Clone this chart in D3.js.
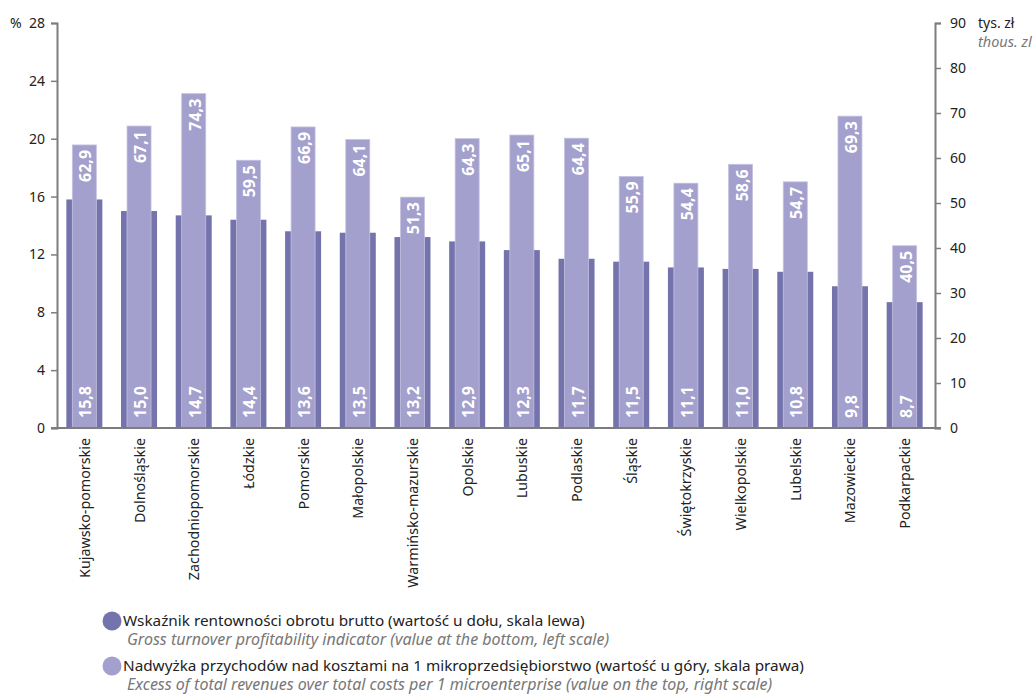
<!DOCTYPE html>
<html><head><meta charset="utf-8">
<script src="https://cdn.jsdelivr.net/npm/d3@7"></script>
<style>body{margin:0;background:#fff}svg{display:block}</style>
</head><body>
<svg id="c" width="1035" height="695"></svg>
<script>
const categories = ["Kujawsko-pomorskie","Dolnośląskie","Zachodniopomorskie","Łódzkie","Pomorskie","Małopolskie","Warmińsko-mazurskie","Opolskie","Lubuskie","Podlaskie","Śląskie","Świętokrzyskie","Wielkopolskie","Lubelskie","Mazowieckie","Podkarpackie"];
const profitability = [15.8,15.0,14.7,14.4,13.6,13.5,13.2,12.9,12.3,11.7,11.5,11.1,11.0,10.8,9.8,8.7];
const surplus = [62.9,67.1,74.3,59.5,66.9,64.1,51.3,64.3,65.1,64.4,55.9,54.4,58.6,54.7,69.3,40.5];
const leftTicks = [0,4,8,12,16,20,24,28];
const rightTicks = [0,10,20,30,40,50,60,70,80,90];
const legendPL = ["Wskaźnik rentowności obrotu brutto (wartość u dołu, skala lewa)","Nadwyżka przychodów nad kosztami na 1 mikroprzedsiębiorstwo (wartość u góry, skala prawa)"];
const legendEN = ["Gross turnover profitability indicator (value at the bottom, left scale)","Excess of total revenues over total costs per 1 microenterprise (value on the top, right scale)"];

const dark = "#7573ac", light = "#a3a0cd", axisCol = "#7d7d7d", font = "'Noto Sans', 'Open Sans', sans-serif";
const svg = d3.select("#c");
const x = d3.scaleBand().domain(categories).range([57, 932]);
const yL = d3.scaleLinear().domain([0,28]).range([428,23]);
const yR = d3.scaleLinear().domain([0,90]).range([428,23]);
const fmt = v => v.toFixed(1).replace(".", ",");

const g = svg.append("g");
g.selectAll("rect.d").data(categories).join("rect")
  .attr("x", d => x(d) + x.bandwidth()/2 - 18).attr("width", 36)
  .attr("y", (d,i) => yL(profitability[i])).attr("height", (d,i) => 428 - yL(profitability[i]))
  .attr("fill", dark);
g.selectAll("rect.l").data(categories).join("rect")
  .attr("x", d => x(d) + x.bandwidth()/2 - 12).attr("width", 24)
  .attr("y", (d,i) => yR(surplus[i])).attr("height", (d,i) => 428 - yR(surplus[i]))
  .attr("fill", light).attr("stroke", "#c4c2e0").attr("stroke-width", 0.8);
categories.forEach((c,i) => {
  const cx = x(c) + x.bandwidth()/2;
  g.append("text").attr("transform", `translate(${cx+1},${yR(surplus[i]) + 5}) rotate(-90)`)
    .attr("text-anchor","end").attr("dominant-baseline","central")
    .attr("fill","#fff").attr("font-family",font).attr("font-weight","bold").attr("font-size",16)
    .text(fmt(surplus[i]));
  g.append("text").attr("transform", `translate(${cx+1},${418}) rotate(-90)`)
    .attr("text-anchor","start").attr("dominant-baseline","central")
    .attr("fill","#fff").attr("font-family",font).attr("font-weight","bold").attr("font-size",16)
    .text(fmt(profitability[i]));
});

const la = svg.append("g").attr("transform","translate(57,0)")
  .call(d3.axisLeft(yL).tickValues(leftTicks).tickSize(6).tickPadding(6));
const ra = svg.append("g").attr("transform","translate(935,0)")
  .call(d3.axisRight(yR).tickValues(rightTicks).tickSize(6).tickPadding(9));
[la, ra].forEach(a => {
  a.select(".domain").attr("stroke", axisCol).attr("stroke-width", 2);
  a.selectAll(".tick line").attr("stroke", axisCol).attr("stroke-width", 1.5);
  a.selectAll("text").attr("font-family", font).attr("font-size", 14).attr("fill", "#222");
});
svg.append("line").attr("x1",51).attr("x2",941).attr("y1",428).attr("y2",428)
  .attr("stroke",axisCol).attr("stroke-width",2);

categories.forEach(c => {
  svg.append("text").attr("transform", `translate(${x(c)+x.bandwidth()/2},438) rotate(-90)`)
    .attr("text-anchor","end").attr("dominant-baseline","central")
    .attr("font-family",font).attr("font-size",14.3).attr("fill","#222").text(c);
});

svg.append("text").attr("x",10).attr("y",28).attr("font-family",font).attr("font-size",14).attr("fill","#222").text("%");
svg.append("text").attr("x",978).attr("y",28).attr("font-family",font).attr("font-size",14).attr("fill","#222").text("tys. zł");
svg.append("text").attr("x",978).attr("y",47).attr("font-family",font).attr("font-size",14.5).attr("font-style","italic").attr("fill","#777").text("thous. zl");

[dark, light].forEach((col,i) => {
  const y0 = 621 + i*45;
  svg.append("circle").attr("cx",112).attr("cy",y0).attr("r",9.5).attr("fill",col);
  svg.append("text").attr("x",123).attr("y",y0+5).attr("font-family",font).attr("font-size",15.3).attr("fill","#222").text(legendPL[i]);
  svg.append("text").attr("x",127).attr("y",y0+24).attr("font-family",font).attr("font-size",16).attr("font-style","italic").attr("fill","#777").text(legendEN[i]);
});
</script>
</body></html>
